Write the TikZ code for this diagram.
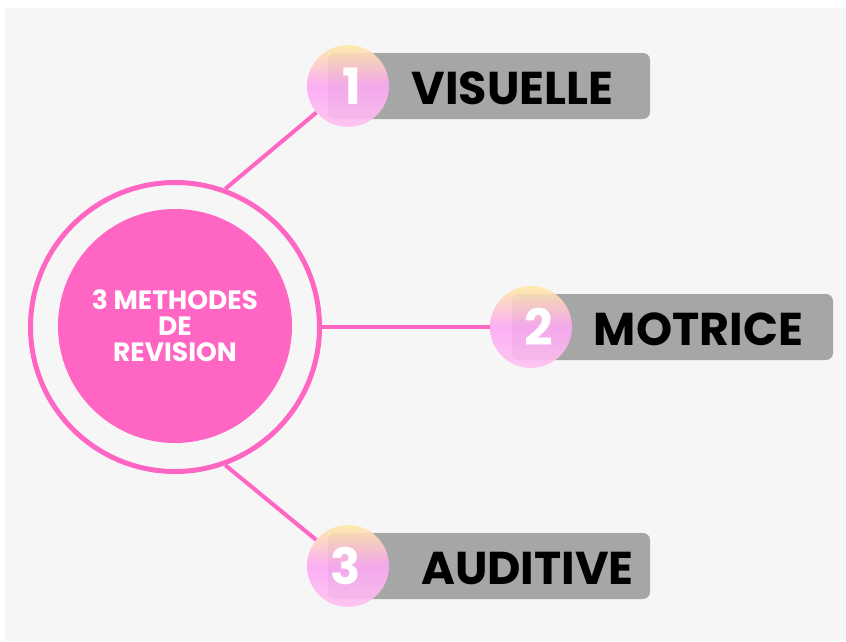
\documentclass[tikz,border=0pt]{standalone}
\usepackage{fontspec}
\setmainfont{Poppins}
\definecolor{bgc}{HTML}{F6F6F6}
\definecolor{pinkc}{HTML}{FF66C4}
\definecolor{boxc}{HTML}{A6A6A6}
\definecolor{gtop}{HTML}{FFEBA6}
\definecolor{gmid}{HTML}{FCA8F4}
\definecolor{gbot}{HTML}{FFC2F0}
\pgfdeclarelayer{bg}
\pgfdeclarelayer{lines}
\pgfsetlayers{bg,lines,main}
\tikzset{
  ring/.style={circle, draw=pinkc, line width=5pt, minimum size=289pt, inner sep=0pt},
  core/.style={circle, fill=pinkc, minimum size=234pt, inner sep=0pt, text=white,
    font=\fontsize{26.5}{26}\selectfont\bfseries, align=center},
  stepbox/.style={rounded corners=7pt, fill=boxc, minimum width=322pt, minimum height=66pt, inner sep=0pt},
  numc/.style={circle, minimum size=82pt, inner sep=0pt, top color=gtop, bottom color=gbot,
    middle color=gmid, shading angle=0, fill opacity=0.9, draw=none},
  numt/.style={text=white, font=\fontsize{50}{50}\selectfont\bfseries, inner sep=0pt},
  lbl/.style={text=black, font=\fontsize{46}{46}\selectfont\bfseries, inner sep=0pt},
  link/.style={draw=pinkc, line width=4pt},
}
\begin{document}
\begin{tikzpicture}[x=1pt,y=-1pt]
\begin{pgfonlayer}{bg}
\fill[white] (0,0) rectangle (846,641);
\fill[bgc] (5,8) rectangle (846,641);
\end{pgfonlayer}
\useasboundingbox (0,0) rectangle (846,641);
\node[ring] (ring) at (175,327) {};
\node[core] (core) at (175,326) {3 METHODES\\DE\\REVISION};
\node[stepbox] (b1) at (489,86) {};
\node[stepbox, minimum width=321pt] (b2) at (672.5,327) {};
\node[stepbox] (b3) at (489,566) {};
\node[numc] (n1) at (348,86) {};
\node[numc] (n2) at (531,327) {};
\node[numc] (n3) at (348,566) {};
\node[numt] (d1) at (352,86) {1};
\node[numt] (d2) at (539,327) {2};
\node[numt] (d3) at (346,566) {3};
\node[lbl] (t1) at (512.5,88) {VISUELLE};
\node[lbl] (t2) at (698.5,329) {MOTRICE};
\node[lbl] (t3) at (527.5,568.5) {AUDITIVE};
\begin{pgfonlayer}{lines}
\draw[link] (ring.70) -- (n1);
\draw[link] (ring.east) -- (n2);
\draw[link] (ring.-70) -- (n3);
\end{pgfonlayer}
\end{tikzpicture}
\end{document}
